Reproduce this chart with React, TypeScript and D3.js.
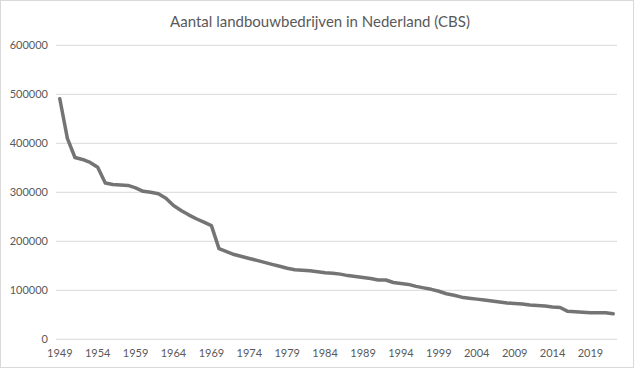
import * as d3 from 'd3'

const title = 'Aantal landbouwbedrijven in Nederland (CBS)'

const years: number[] = [
  1949, 1950, 1951, 1952, 1953, 1954, 1955, 1956, 1957, 1958,
  1959, 1960, 1961, 1962, 1963, 1964, 1965, 1966, 1967, 1968,
  1969, 1970, 1971, 1972, 1973, 1974, 1975, 1976, 1977, 1978,
  1979, 1980, 1981, 1982, 1983, 1984, 1985, 1986, 1987, 1988,
  1989, 1990, 1991, 1992, 1993, 1994, 1995, 1996, 1997, 1998,
  1999, 2000, 2001, 2002, 2003, 2004, 2005, 2006, 2007, 2008,
  2009, 2010, 2011, 2012, 2013, 2014, 2015, 2016, 2017, 2018,
  2019, 2020, 2021, 2022
]

const bedrijven: number[] = [
  491000, 410000, 371000, 367000, 361000, 351000, 319000, 316000, 315000, 314000,
  309000, 302000, 300000, 297000, 288000, 273000, 263000, 254000, 246000, 239000,
  232000, 185000, 179000, 173000, 169000, 165000, 161000, 157000, 153000, 149000,
  145000, 142000, 141000, 140000, 138000, 136000, 135000, 133000, 130000, 128000,
  126000, 124000, 121000, 121000, 116000, 114000, 112000, 108000, 105000, 102000,
  98000, 93000, 90000, 86000, 84000, 82000, 80000, 78000, 76000, 74000,
  73000, 72000, 70000, 69000, 68000, 66000, 65000, 57000, 56000, 55000,
  54000, 54000, 54000, 52000
]

const yTicks: number[] = [0, 100000, 200000, 300000, 400000, 500000, 600000]

const W = 639
const H = 370
const left = 56
const right = 617
const top = 45.3
const bottom = 339.3
const textColor = '#595959'
const font = 'Lato, "Open Sans", sans-serif'

export default function App() {
  const x = d3.scaleBand<number>().domain(years).range([left, right]).padding(0)
  const cx = (yr: number) => (x(yr) ?? 0) + x.bandwidth() / 2
  const y = d3.scaleLinear().domain([0, 600000]).range([bottom, top])

  const line = d3.line<number>()
    .x((_, i) => cx(years[i]))
    .y((d) => y(d))

  const labelYears = years.filter((yr) => (yr - 1949) % 5 === 0)

  return (
    <div style={{ position: 'absolute', left: 0, top: 0 }}>
      <svg width={W} height={H} style={{ display: 'block', background: '#fff' }}>
        <rect x={0.5} y={0.5} width={W - 6} height={H - 3} fill="#fff" stroke="#d9d9d9" />
        <text
          x={320}
          y={27}
          textAnchor="middle"
          fill={textColor}
          fontFamily={font}
          fontSize={15}
        >
          {title}
        </text>
        {yTicks.map((t) => (
          <g key={t}>
            <line x1={left} x2={right} y1={y(t)} y2={y(t)} stroke="#d9d9d9" strokeWidth={1} />
            <text
              x={48}
              y={y(t)}
              dy="0.35em"
              textAnchor="end"
              fill={textColor}
              fontFamily={font}
              fontSize={11}
            >
              {t}
            </text>
          </g>
        ))}
        {labelYears.map((yr) => (
          <text
            key={yr}
            x={cx(yr)}
            y={357}
            textAnchor="middle"
            fill={textColor}
            fontFamily={font}
            fontSize={11}
          >
            {yr}
          </text>
        ))}
        <path
          d={line(bedrijven) ?? ''}
          fill="none"
          stroke="#747474"
          strokeWidth={3.5}
          strokeLinejoin="round"
          strokeLinecap="round"
        />
      </svg>
    </div>
  )
}
